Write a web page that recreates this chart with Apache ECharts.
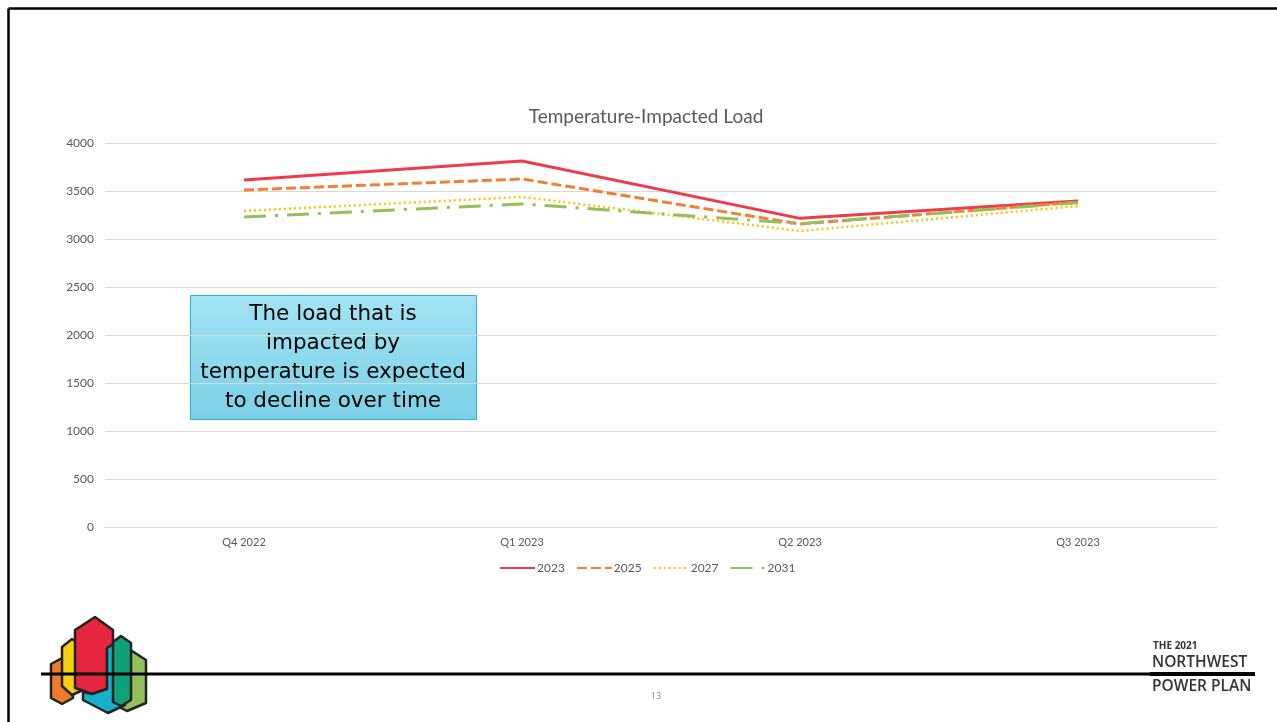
<!DOCTYPE html>
<html>
<head>
<meta charset="utf-8">
<script src="https://cdn.jsdelivr.net/npm/echarts@6/dist/echarts.min.js"></script>
<style>
  html, body { margin: 0; padding: 0; background: #ffffff; }
  #chart { width: 1277px; height: 722px; }
</style>
</head>
<body>
<div id="chart"></div>
<script>
// Quarterly temperature-impacted load, by forecast year
const categories = ['Q4 2022', 'Q1 2023', 'Q2 2023', 'Q3 2023'];
const load2023 = [3615, 3812, 3215, 3396];
const load2025 = [3510, 3625, 3156, 3385];
const load2027 = [3292, 3438, 3083, 3344];
const load2031 = [3229, 3365, 3160, 3378];
const yTicks = { min: 0, max: 4000, interval: 500 };

const chartFont = 'Lato, "Open Sans", sans-serif';
const grey = '#595959';

// Power plan logo: stacked hexagonal bars
const logoShapes = [
  { fill: '#93c05a', pts: [[119, 655], [132, 651], [146, 660], [146, 703], [127, 711], [115, 705]] },
  { fill: '#f07a2a', pts: [[51, 664], [62, 658], [73, 664], [73, 698], [62, 704], [51, 698]] },
  { fill: '#f4d10f', pts: [[62, 647], [72, 639], [83, 646], [83, 690], [72, 695], [62, 686]] },
  { fill: '#e8253f', pts: [[75, 630], [95, 617], [113, 630], [113, 687], [92, 694], [75, 688]] },
  { fill: '#16b2cc', pts: [[107, 648], [120, 640], [125, 645], [125, 705], [108, 713], [83, 700], [83, 692], [92, 694], [107, 689]] },
  { fill: '#0ea17a', pts: [[113, 642], [121, 636], [131, 643], [131, 700], [121, 706], [113, 702]] }
];

const graphics = [
  // slide frame
  { type: 'line', shape: { x1: 8.5, y1: 8.5, x2: 1277, y2: 8.5 }, style: { stroke: '#000', lineWidth: 2.5 } },
  { type: 'line', shape: { x1: 8.5, y1: 8.5, x2: 8.5, y2: 722 }, style: { stroke: '#000', lineWidth: 2.5 } },
  // call-out box
  {
    type: 'rect',
    shape: { x: 190.5, y: 295.5, width: 286, height: 124 },
    style: {
      fill: { type: 'linear', x: 0, y: 0, x2: 0, y2: 1,
        colorStops: [{ offset: 0, color: '#a2e3f4' }, { offset: 1, color: '#7bd0e6' }] },
      stroke: '#2ab4d0', lineWidth: 1
    }
  },
  {
    type: 'text',
    x: 333, y: 358,
    style: {
      text: 'The load that is\nimpacted by\ntemperature is expected\nto decline over time',
      font: '21.5px "DejaVu Sans", sans-serif',
      fill: '#000', align: 'center', verticalAlign: 'middle', lineHeight: 29
    }
  }
];

logoShapes.forEach(s => {
  graphics.push({
    type: 'polygon', shape: { points: s.pts },
    style: { fill: s.fill, stroke: '#222', lineWidth: 2.5, lineJoin: 'round' }
  });
});

graphics.push(
  { type: 'line', shape: { x1: 41, y1: 674, x2: 1255, y2: 674 }, style: { stroke: '#000', lineWidth: 3 } },
  { type: 'line', shape: { x1: 1150, y1: 674, x2: 1255, y2: 674 }, style: { stroke: '#000', lineWidth: 4 } },
  { type: 'text', x: 1153, y: 646, style: { text: 'THE 2021', font: 'bold 10px "Open Sans", sans-serif', fill: '#333', verticalAlign: 'middle' } },
  { type: 'text', x: 1152, y: 663, style: { text: 'NORTHWEST', font: '600 15.5px "Open Sans", sans-serif', fill: '#333', verticalAlign: 'middle' } },
  { type: 'text', x: 1152, y: 687, style: { text: 'POWER PLAN', font: '600 15.5px "Open Sans", sans-serif', fill: '#333', verticalAlign: 'middle' } },
  { type: 'text', x: 656, y: 696, style: { text: '13', font: '9px "Open Sans", sans-serif', fill: '#8a8a8a', align: 'center', verticalAlign: 'middle' } }
);

function lineSeries(name, data, color, width, dash) {
  return {
    name, type: 'line', data,
    symbol: 'none', smooth: false,
    lineStyle: { color, width, type: dash, cap: 'butt' },
    itemStyle: { color },
    z: 3
  };
}

const chart = echarts.init(document.getElementById('chart'), null, { renderer: 'canvas' });
chart.setOption({
  animation: false,
  backgroundColor: '#ffffff',
  textStyle: { fontFamily: chartFont },
  title: {
    text: 'Temperature-Impacted Load',
    left: 641, top: 102, textAlign: 'center',
    textStyle: { fontFamily: chartFont, fontSize: 19, fontWeight: 'normal', color: grey }
  },
  grid: { left: 105, right: 60, top: 143, bottom: 195 },
  legend: {
    left: 499, top: 562, padding: 0,
    itemWidth: 35, itemHeight: 10, itemGap: 11,
    itemStyle: { opacity: 0 },
    textStyle: { fontFamily: chartFont, fontSize: 12, color: grey, padding: [0, 0, 0, -3] },
    data: ['2023', '2025', '2027', '2031']
  },
  xAxis: {
    type: 'category', data: categories, boundaryGap: true,
    axisLine: { lineStyle: { color: '#d9d9d9' } },
    axisTick: { show: false },
    axisLabel: { color: grey, fontSize: 11, margin: 10, fontFamily: chartFont }
  },
  yAxis: {
    type: 'value', min: yTicks.min, max: yTicks.max, interval: yTicks.interval,
    axisLine: { show: false }, axisTick: { show: false },
    axisLabel: { color: grey, fontSize: 12, margin: 11, fontFamily: chartFont, formatter: v => String(v) },
    splitLine: { lineStyle: { color: '#d9d9d9', width: 1 } }
  },
  series: [
    lineSeries('2023', load2023, '#ef3b4c', 3, 'solid'),
    lineSeries('2025', load2025, '#f47f34', 3, [10, 4]),
    lineSeries('2027', load2027, '#fac40f', 2.5, [2, 3]),
    lineSeries('2031', load2031, '#93c05a', 3, [22, 9, 3, 9])
  ],
  graphic: graphics
});
</script>
</body>
</html>
